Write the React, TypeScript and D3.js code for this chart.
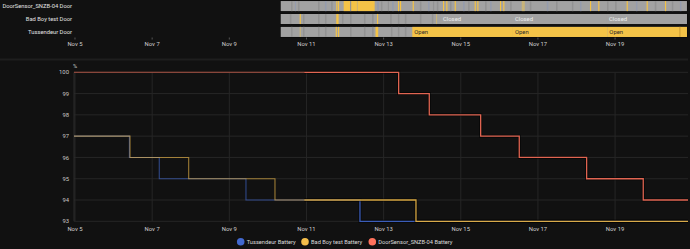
import * as d3 from 'd3';
import React from 'react';

// day-of-November values (fractional days)
const YEAR = 2023;
const nov = (d: number) => new Date(YEAR, 10, Math.floor(d), 0, Math.round((d % 1) * 1440));

const startDay = 4.974;
const endDay = 20.89;
const highlightFrom = 10.943;
const tickDays = [5, 7, 9, 11, 13, 15, 17, 19];
const yTicks = [93, 94, 95, 96, 97, 98, 99, 100];

// battery series
const tussendeurDays = [4.974, 6.41, 7.185, 9.432, 12.387];
const tussendeurVals = [97, 96, 95, 94, 93];
const badBoyDays = [4.974, 6.426, 7.947, 10.184, 13.839];
const badBoyVals = [97, 96, 95, 94, 93];
const doorDays = [4.974, 13.39, 14.183, 15.516, 16.516, 18.263, 19.73];
const doorVals = [100, 99, 98, 97, 96, 95, 94];

// timeline rows
const rowNames = ['DoorSensor_SNZB-04 Door', 'Bad Boy test Door', 'Tussendeur Door'];
const tlStart = 10.332;
const tlEnd = 20.863;

// [start, end, state]
const doorSensorSegs: [number, number, string][] = [
  [10.6, 10.64, 'dark'], [10.7, 10.73, 'blue'], [10.78, 10.82, 'dark'], [11.3, 11.34, 'dark'],
  [11.48, 11.52, 'blue'], [11.64, 11.68, 'dark'], [11.773, 11.803, 'open'], [11.817, 11.847, 'open'],
  [11.965, 12.309, 'open'], [12.322, 12.768, 'open'], [12.13, 12.16, 'dark'], [12.83, 12.88, 'blue'],
  [12.93, 12.97, 'dark'], [13.11, 13.14, 'dark'], [13.22, 13.26, 'blue'], [13.372, 13.402, 'open'],
  [13.424, 13.454, 'open'], [13.753, 13.783, 'open'], [13.94, 13.98, 'dark'], [14.15, 14.19, 'blue'],
  [14.28, 14.31, 'dark'], [14.38, 14.42, 'dark'], [14.539, 14.569, 'open'], [14.624, 14.654, 'open'],
  [14.72, 14.76, 'dark'], [14.842, 14.872, 'open'], [15.06, 15.1, 'blue'], [15.19, 15.23, 'dark'],
  [15.36, 15.39, 'open'], [15.428, 15.458, 'open'], [15.63, 15.67, 'dark'], [15.76, 15.8, 'blue'],
  [16.016, 16.046, 'open'], [16.101, 16.131, 'open'], [16.28, 16.32, 'dark'], [16.58, 16.66, 'pale'],
  [16.79, 16.83, 'dark'], [17.23, 17.27, 'blue'], [17.47, 17.51, 'dark'], [17.88, 17.92, 'dark'],
  [18.09, 18.13, 'blue'], [18.349, 18.379, 'open'], [18.564, 18.594, 'open'], [18.79, 18.83, 'dark'],
  [19.0, 19.04, 'dark'], [19.3, 19.33, 'open'], [19.54, 19.58, 'blue'], [19.818, 19.848, 'open'],
  [20.03, 20.07, 'dark'], [20.293, 20.323, 'open'], [20.47, 20.51, 'dark'], [20.68, 20.72, 'blue'],
];
const badBoySegs: [number, number, string][] = [
  [10.57, 10.61, 'dark'], [10.824, 10.854, 'open'], [10.91, 10.95, 'dark'], [11.3, 11.34, 'dark'],
  [11.48, 11.52, 'dark'], [11.773, 11.833, 'open'], [11.92, 11.96, 'dark'], [12.13, 12.17, 'dark'],
  [12.49, 12.53, 'dark'], [12.7, 12.74, 'dark'], [12.828, 12.858, 'open'], [13.17, 13.21, 'dark'],
  [13.37, 13.41, 'dark'], [13.55, 13.59, 'dark'], [13.94, 13.98, 'dark'], [14.25, 14.29, 'dark'],
  [14.357, 14.387, 'pale'],
  [14.487, 16.353, 'closed'], [16.353, 18.79, 'closed'], [18.79, 20.863, 'closed'],
];
const tussendeurSegs: [number, number, string][] = [
  [10.6, 10.64, 'dark'], [10.824, 10.854, 'pale'], [10.91, 10.95, 'dark'], [11.3, 11.34, 'dark'],
  [11.48, 11.52, 'dark'], [11.758, 11.788, 'open'], [11.817, 11.847, 'open'], [12.13, 12.17, 'dark'],
  [12.49, 12.53, 'dark'], [12.7, 12.74, 'dark'], [12.79, 12.86, 'open'], [13.19, 13.23, 'dark'],
  [13.37, 13.41, 'dark'], [13.55, 13.59, 'dark'],
  [13.743, 16.353, 'open'], [16.353, 18.8, 'open'], [18.8, 20.863, 'open'], [20.66, 20.7, 'deep'],
];
const rowSegs = [doorSensorSegs, badBoySegs, tussendeurSegs];

const stateColor: Record<string, string> = {
  closed: '#a2a2a2', open: '#f4c347', dark: '#939393', blue: '#959cad', pale: '#c8b47a', deep: '#d9a83a',
};
const stateLabel: Record<string, string> = { closed: 'Closed', open: 'Open' };

const legend = [
  { name: 'Tussendeur Battery', color: '#4269d0' },
  { name: 'Bad Boy test Battery', color: '#f4bd4a' },
  { name: 'DoorSensor_SNZB-04 Battery', color: '#ff725c' },
];

const W = 690, H = 249;
const FONT = 'Roboto, "Noto Sans", sans-serif';
const FS = 5.9;

export default function App() {
  const x = d3.scaleTime().domain([nov(startDay), nov(endDay)]).range([74, 688]);
  const y = d3.scaleLinear().domain([93, 100]).range([221.3, 72.3]);
  const row = d3.scaleBand().domain(rowNames).range([0, 38]).paddingInner(0.22).paddingOuter(0.08);
  const fmt = d3.timeFormat('%b %-d');

  const line = d3.line<[Date, number]>().x(d => x(d[0])).y(d => y(d[1])).curve(d3.curveStepAfter);
  const toPts = (days: number[], vals: number[]): [Date, number][] => {
    const p: [Date, number][] = days.map((d, i) => [nov(d), vals[i]]);
    p.push([nov(endDay), vals[vals.length - 1]]);
    return p;
  };
  const series = [
    { pts: toPts(tussendeurDays, tussendeurVals), color: legend[0].color },
    { pts: toPts(badBoyDays, badBoyVals), color: legend[1].color },
    { pts: toPts(doorDays, doorVals), color: legend[2].color },
  ];
  const splitX = x(nov(highlightFrom));
  const legendX = [240.7, 305, 372.3];

  return (
    <svg width={W} height={H} style={{ position: 'absolute', left: 0, top: 0, background: '#111111' }}
      fontFamily={FONT}>
      <rect width={W} height={H} fill="#111111" />
      <defs>
        <clipPath id="dimClip"><rect x={0} y={60} width={splitX} height={170} /></clipPath>
        <clipPath id="brightClip"><rect x={splitX} y={60} width={W - splitX} height={170} /></clipPath>
      </defs>

      {/* timeline */}
      {rowNames.map((name, i) => {
        const y0 = row(name)!;
        const bh = row.bandwidth();
        return (
          <g key={name}>
            <text x={72} y={y0 + bh / 2} dy="0.35em" textAnchor="end" fontSize={5.8} fill="#e1e1e1">{name}</text>
            <rect x={x(nov(tlStart)) - 0.5} y={y0 - 0.5} width={x(nov(tlEnd)) - x(nov(tlStart)) + 1} height={bh + 1}
              fill="#050505" />
            <rect x={x(nov(tlStart))} y={y0} width={x(nov(tlEnd)) - x(nov(tlStart))} height={bh} fill={stateColor.closed} />
            {rowSegs[i].map((s, j) => {
              const x0 = x(nov(s[0]));
              const w = Math.max(1, x(nov(s[1])) - x0);
              return <rect key={j} x={x0} y={y0} width={w} height={bh} fill={stateColor[s[2]]} />;
            })}
            {rowSegs[i].filter(s => x(nov(s[1])) - x(nov(s[0])) > 40 && stateLabel[s[2]]).map((s, j) => (
              <text key={'l' + j} x={x(nov(s[0])) + 2} y={y0 + bh / 2} dy="0.35em" fontSize={FS}
                fill={s[2] === 'open' ? '#2a2a2a' : '#eeeeee'}>{stateLabel[s[2]]}</text>
            ))}
          </g>
        );
      })}
      {tickDays.map(d => (
        <g key={'tt' + d}>
          <line x1={x(nov(d))} x2={x(nov(d))} y1={37.5} y2={39.5} stroke="#555" />
          <text x={x(nov(d))} y={44} dy="0.35em" textAnchor="middle" fontSize={FS} fill="#d0d0d0">{fmt(nov(d))}</text>
        </g>
      ))}

      <line x1={0} x2={688} y1={59.5} y2={59.5} stroke="#1e1e1e" strokeWidth={2} />

      {/* battery chart grid */}
      {yTicks.map(v => (
        <g key={'y' + v}>
          <line x1={74} x2={688} y1={y(v)} y2={y(v)} stroke="#262626" />
          <text x={69} y={y(v)} dy="0.35em" textAnchor="end" fontSize={FS} fill="#c8c8c8">{v}</text>
        </g>
      ))}
      {tickDays.map(d => (
        <g key={'x' + d}>
          <line x1={x(nov(d))} x2={x(nov(d))} y1={y(100)} y2={y(93)} stroke="#262626" />
          <text x={x(nov(d))} y={228.5} dy="0.35em" textAnchor="middle" fontSize={FS} fill="#d0d0d0">{fmt(nov(d))}</text>
        </g>
      ))}
      <line x1={74} x2={74} y1={y(100)} y2={y(93)} stroke="#2c2c2c" />
      <text x={73} y={66.5} dy="0.35em" fontSize={5.6} fill="#c8c8c8">%</text>

      {/* lines */}
      {series.map((s, i) => (
        <g key={'s' + i}>
          <path d={line(s.pts)!} fill="none" stroke="#000" strokeOpacity={0.6} strokeWidth={3} clipPath="url(#brightClip)" />
          <path d={line(s.pts)!} fill="none" stroke={s.color} strokeOpacity={0.88} strokeWidth={1.3} clipPath="url(#brightClip)" />
          <path d={line(s.pts)!} fill="none" stroke={s.color} strokeOpacity={0.62} strokeWidth={1.1} clipPath="url(#dimClip)" />
        </g>
      ))}

      {/* legend */}
      {legend.map((l, i) => (
        <g key={l.name}>
          <circle cx={legendX[i]} cy={241.7} r={3.8} fill={l.color} />
          <text x={legendX[i] + 6} y={241.7} dy="0.35em" fontSize={5.7} fill="#dcdcdc">{l.name}</text>
        </g>
      ))}
    </svg>
  );
}
